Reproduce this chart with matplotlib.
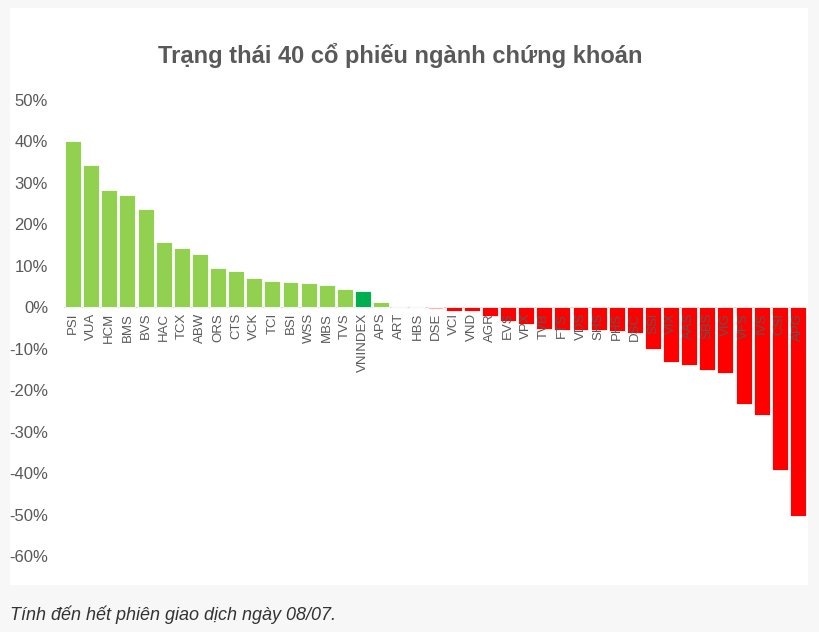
import matplotlib.pyplot as plt
from matplotlib.patches import Rectangle
from matplotlib.ticker import FuncFormatter

plt.rcParams['font.family'] = ['Liberation Sans', 'DejaVu Sans']

tickers = ["PSI", "VUA", "HCM", "BMS", "BVS", "HAC", "TCX", "ABW", "ORS", "CTS",
           "VCK", "TCI", "BSI", "WSS", "MBS", "TVS", "VNINDEX", "APS", "ART", "HBS",
           "DSE", "VCI", "VND", "AGR", "EVS", "VPX", "TVB", "FTS", "VDS", "SHS",
           "PHS", "DSC", "SSI", "VIX", "AAS", "SBS", "VIG", "VFS", "IVS", "CSI", "APG"]
changes = [40.2, 34.2, 28.2, 27.2, 23.6, 15.7, 14.2, 12.8, 9.4, 8.7,
           7.0, 6.3, 6.1, 5.8, 5.3, 4.3, 3.9, 1.2, 0.0, 0.0,
           -0.4, -0.9, -1.0, -2.0, -3.4, -4.1, -5.3, -5.5, -5.5, -5.6,
           -5.8, -6.3, -10.1, -13.3, -14.0, -15.2, -15.9, -23.4, -26.0, -39.3, -50.4]

colors = []
for t, v in zip(tickers, changes):
    if t == "VNINDEX":
        colors.append("#00b050")
    elif t == "DSE":
        colors.append("#ffb3b3")
    elif v > 0:
        colors.append("#92d050")
    else:
        colors.append("#ff0000")

fig = plt.figure(figsize=(8.2, 6.32), dpi=100, facecolor="#f7f7f7")
# white card behind the chart
fig.patches.append(Rectangle((10 / 820, 1 - 585 / 632), 798 / 820, 577 / 632,
                             transform=fig.transFigure, facecolor="white",
                             edgecolor="none", zorder=-10))

ax = fig.add_axes([64 / 820, 1 - 556 / 632, 743 / 820, 456 / 632])
ax.set_zorder(1)
ax.set_facecolor("none")
x = list(range(len(tickers)))
ax.bar(x, changes, width=0.88, color=colors, edgecolor="white", linewidth=0.6)
ax.axhline(0, color="#d9d9d9", linewidth=0.8, zorder=0)

# labels sit on the zero line
ax.spines["bottom"].set_position(("data", 0))
for s in ax.spines.values():
    s.set_visible(False)

ax.set_xlim(-0.5, len(tickers) - 0.5)
ax.set_ylim(-60, 50)
ax.set_yticks(range(-60, 51, 10))
ax.yaxis.set_major_formatter(FuncFormatter(lambda v, p: "{:.0f}%".format(v)))
ax.tick_params(axis="y", length=0, pad=11.5, labelsize=12, labelcolor="#595959")

ax.set_xticks(x)
ax.set_xticklabels(tickers)
ax.tick_params(axis="x", length=0, pad=4, labelrotation=90, labelsize=9.5,
               labelcolor="#595959")

fig.text(400 / 820, 1 - 55 / 632, "Trạng thái 40 cổ phiếu ngành chứng khoán",
         ha="center", va="center", fontsize=17, fontweight="bold", color="#595959")
fig.text(10 / 820, 1 - 615 / 632, "Tính đến hết phiên giao dịch ngày 08/07.",
         ha="left", va="center", fontsize=13, style="italic", color="#333333")

fig.savefig("out.png", dpi=100, facecolor=fig.get_facecolor())
